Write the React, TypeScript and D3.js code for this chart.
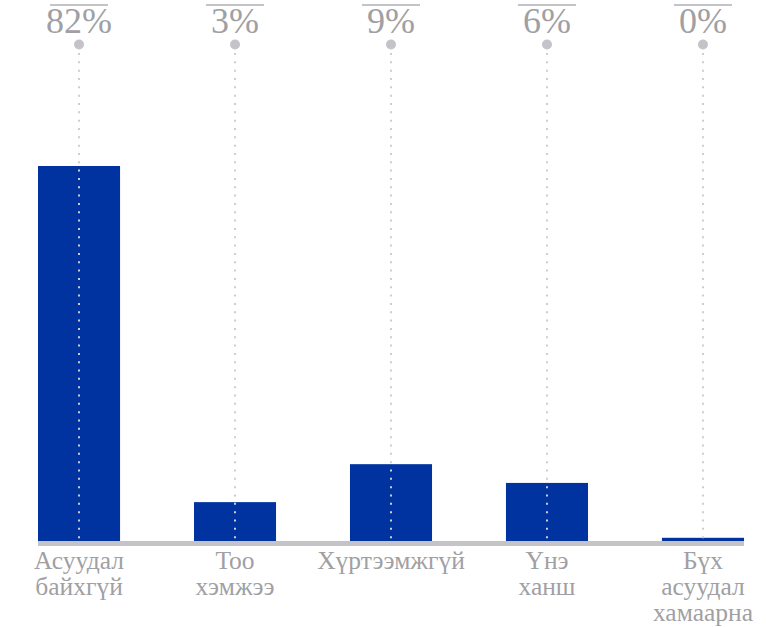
import React from "react";
import * as d3 from "d3";

const categories: string[][] = [
  ["Асуудал", "байхгүй"],
  ["Тоо", "хэмжээ"],
  ["Хүртээмжгүй"],
  ["Үнэ", "ханш"],
  ["Бүх", "асуудал", "хамаарна"],
];
const pctLabels: number[] = [82, 3, 9, 6, 0];
const barValues: number[] = [82, 8.5, 16.8, 12.7, 0.7];

const W = 766;
const H = 627;
const left = 38;
const right = 744;
const baseY = 541;
const topY = 166;

export default function App() {
  const keys = categories.map((_, i) => String(i));
  const x = d3.scaleBand<string>().domain(keys).range([left, right]).paddingInner(0.474).paddingOuter(0);
  const y = d3.scaleLinear().domain([0, 82]).range([baseY, topY]);
  const bw = x.bandwidth();
  const grey = "#a0a0a4";
  const light = "#c4c4c8";
  return (
    <svg width={W} height={H} style={{ position: "absolute", left: 0, top: 0, fontFamily: "'Liberation Serif', 'Times New Roman', serif" }}>
      {barValues.map((v, i) => (
        <rect key={"b" + i} x={x(keys[i])} y={y(v)} width={bw} height={baseY - y(v)} fill="#0033a0" />
      ))}
      <rect x={left} y={baseY} width={right - left} height={5} fill={light} />
      {pctLabels.map((p, i) => {
        const cx = (x(keys[i]) as number) + bw / 2;
        return (
          <g key={"l" + i}>
            <line x1={cx} x2={cx} y1={53} y2={baseY} stroke="#cdcdd2" strokeWidth={2} strokeDasharray="2 6.33" />
            <circle cx={cx} cy={44.5} r={5} fill={light} />
            <line x1={cx - 29} x2={cx + 29} y1={5} y2={5} stroke={light} strokeWidth={2} />
            <text x={cx} y={33} textAnchor="middle" fontSize={36} fill={grey}>{p + "%"}</text>
            {categories[i].map((s, j) => (
              <text key={j} x={cx} y={569 + j * 26.2} textAnchor="middle" fontSize={25.5} fill={grey}>{s}</text>
            ))}
          </g>
        );
      })}
    </svg>
  );
}
